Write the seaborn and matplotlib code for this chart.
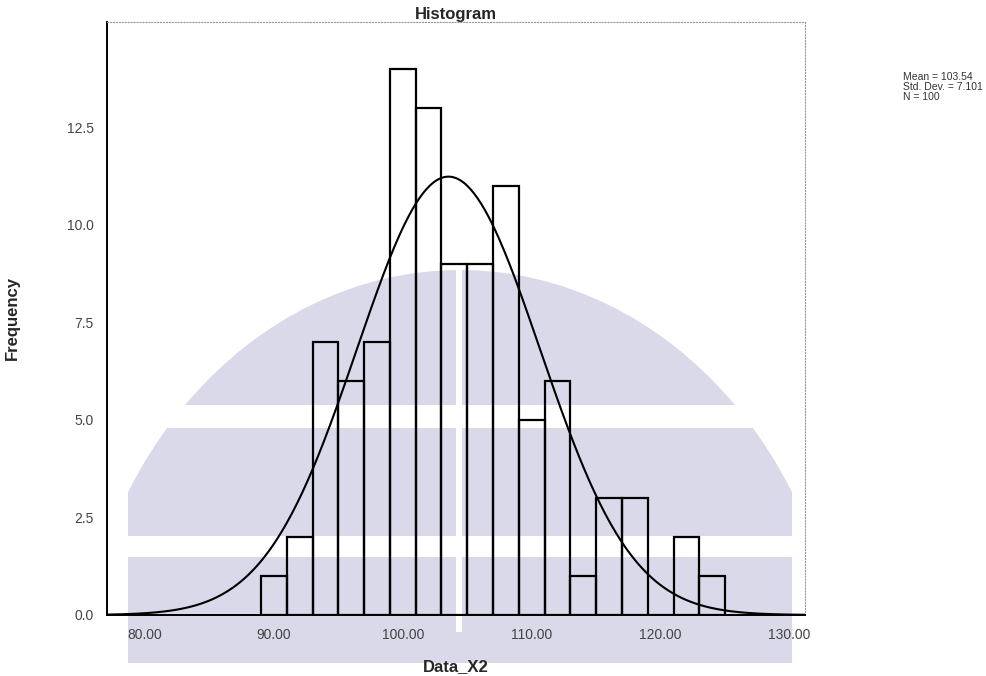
import numpy as np
import pandas as pd
import matplotlib
matplotlib.use('Agg')
import matplotlib.pyplot as plt
import seaborn as sns
from matplotlib.patches import Ellipse, Rectangle

# 히스토그램 데이터
bin_edges = [89, 91, 93, 95, 97, 99, 101, 103, 105, 107, 109, 111, 113, 115, 117, 119, 121, 123, 125]
counts = [1, 2, 7, 6, 7, 14, 13, 9, 9, 11, 5, 6, 1, 3, 3, 0, 2, 1]
x_ticks = [80, 90, 100, 110, 120, 130]
y_ticks = [0.0, 2.5, 5.0, 7.5, 10.0, 12.5]
mean_val = 103.54
std_val = 7.101
n_val = 100

sns.set_style('white')
plt.rcParams['font.family'] = ['Liberation Sans Narrow', 'Liberation Sans', 'DejaVu Sans']

W, H = 986, 676
fig = plt.figure(figsize=(W / 100, H / 100), dpi=100)
fig.patch.set_facecolor('white')


def fx(px):
    return px / W


def fy(py):
    return 1 - py / H


# 배경 워터마크 (연보라색 로고)
wm = '#d9d9e9'
clip = Rectangle((fx(128), fy(663)), fx(792) - fx(128), fy(270) - fy(663),
                 transform=fig.transFigure, facecolor='none', edgecolor='none')
dome = Ellipse((fx(460), fy(720)), 2 * 385 / W, 2 * 450 / H, transform=fig.transFigure,
               facecolor=wm, edgecolor='none', zorder=-3)
fig.patches.append(dome)
dome.set_clip_path(clip)
for y0, y1 in [(405, 428), (536, 557)]:
    fig.patches.append(Rectangle((0, fy(y1)), 1, fy(y0) - fy(y1), transform=fig.transFigure,
                                 facecolor='white', edgecolor='none', zorder=-2))
fig.patches.append(Rectangle((fx(456), fy(632)), 6 / W, fy(270) - fy(632), transform=fig.transFigure,
                             facecolor='white', edgecolor='none', zorder=-2))

ax = fig.add_axes([fx(107), fy(615), fx(805) - fx(107), fy(22) - fy(615)])
ax.patch.set_facecolor('none')

df = pd.DataFrame({'center': np.array(bin_edges[:-1]) + 1, 'count': counts})
sns.histplot(data=df, x='center', weights='count', bins=bin_edges, fill=False,
             color='black', linewidth=1.6, ax=ax)

# 정규분포 곡선
xs = np.linspace(77, 131.2, 400)
bw = bin_edges[1] - bin_edges[0]
pdf = n_val * bw / (std_val * np.sqrt(2 * np.pi)) * np.exp(-0.5 * ((xs - mean_val) / std_val) ** 2)
sns.lineplot(x=xs, y=pdf, color='black', linewidth=1.5, ax=ax)

ax.set_xlim(77.05, 131.2)
ax.set_ylim(0, 15.2)
ax.set_xticks(x_ticks)
ax.set_xticklabels(['{:.2f}'.format(v) for v in x_ticks])
ax.set_yticks(y_ticks)
ax.set_yticklabels(['{:.1f}'.format(v) for v in y_ticks])
ax.tick_params(axis='both', direction='out', length=6, width=1.2, colors='black',
               labelcolor='#444444', labelsize=10)

for s in ['left', 'bottom']:
    ax.spines[s].set_color('black')
    ax.spines[s].set_linewidth(1.4)
for s in ['top', 'right']:
    ax.spines[s].set_color('#999999')
    ax.spines[s].set_linewidth(0.8)
    ax.spines[s].set_linestyle(':')

ax.set_title('Histogram', fontsize=12, fontweight='bold', pad=2)
ax.set_xlabel('Data_X2', fontsize=12, fontweight='bold', labelpad=12)
ax.set_ylabel('Frequency', fontsize=12, fontweight='bold', labelpad=34)

fig.text(fx(903), fy(72), 'Mean = {:.2f}\nStd. Dev. = {:.3f}\nN = {}'.format(mean_val, std_val, n_val),
         fontsize=7.5, color='#333333', va='top', ha='left', linespacing=1.0)

fig.savefig('out.png', dpi=100)
